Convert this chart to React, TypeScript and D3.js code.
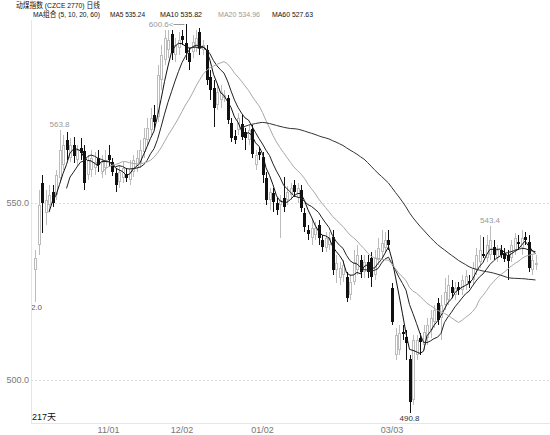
import React from "react";
import * as d3 from "d3";

const opens = [
  531.1, 538.1, 555.6, 547.2, 549.4, 553.0, 552.3, 557.1, 560.7, 567.8,
  562.7, 566.4, 562.1, 565.5, 564.7, 557.9, 559.3, 559.9, 562.7, 558.7,
  559.9, 563.6, 561.6, 558.5, 555.9, 557.1, 558.2, 556.5, 558.7, 559.9,
  561.3, 564.4, 567.8, 570.6, 574.9, 574.3, 584.7, 590.4, 593.2, 597.7,
  591.8, 593.8, 597.2, 595.2, 592.4, 592.6, 593.8, 598.3, 593.2, 593.2,
  585.6, 582.5, 577.7, 579.1, 579.6, 579.6, 572.6, 568.9, 570.6, 572.3,
  570.1, 567.8, 570.9, 560.7, 564.4, 563.0, 557.1, 550.8, 552.8, 550.0,
  549.4, 551.4, 550.8, 552.3, 555.1, 551.4, 553.7, 547.2, 542.4, 540.1,
  541.0, 543.8, 539.5, 537.3, 538.1, 540.4, 531.1, 528.8, 529.7, 529.1,
  524.0, 527.7, 531.1, 533.9, 530.5, 533.3, 534.5, 529.7, 533.9, 536.2,
  537.3, 539.5, 526.0, 507.1, 508.5, 513.6, 512.1, 505.9, 494.3, 507.1,
  511.9, 509.9, 511.9, 514.1, 516.4, 521.7, 517.5, 521.2, 522.6, 526.3,
  524.0, 526.3, 525.4, 526.8, 527.9, 528.2, 531.1, 533.3, 535.6, 534.5,
  535.3, 537.6, 534.5, 536.7, 535.9, 535.3, 534.5, 536.7, 539.0, 537.3,
  540.4, 539.0, 531.1, 532.5,
];
const highs = [
  536.7, 553.7, 557.9, 553.7, 555.1, 555.1, 559.3, 570.6, 569.2, 570.1,
  568.4, 568.6, 566.4, 568.4, 566.4, 563.6, 565.0, 564.4, 565.0, 563.6,
  565.0, 566.4, 562.7, 559.9, 560.7, 561.6, 559.9, 562.1, 563.6, 565.0,
  567.8, 571.2, 574.0, 576.8, 577.7, 589.0, 594.6, 598.9, 598.9, 598.9,
  596.6, 598.3, 598.9, 600.6, 593.8, 597.5, 598.9, 599.4, 596.0, 594.6,
  587.6, 584.7, 583.3, 583.3, 581.9, 580.5, 574.0, 570.6, 575.4, 574.9,
  571.2, 572.0, 572.0, 565.0, 565.5, 564.4, 558.7, 554.2, 554.2, 551.4,
  552.3, 557.3, 554.8, 555.6, 556.5, 555.6, 555.1, 548.6, 543.8, 545.2,
  544.6, 545.2, 541.0, 541.8, 541.8, 542.4, 535.3, 533.3, 533.9, 530.5,
  529.7, 536.7, 538.1, 535.3, 535.3, 535.3, 536.2, 536.7, 540.1, 542.4,
  541.8, 542.4, 527.4, 514.7, 515.5, 515.5, 514.1, 507.1, 512.7, 512.7,
  513.3, 515.5, 517.5, 519.8, 521.2, 523.2, 524.0, 528.8, 529.7, 528.2,
  527.7, 527.7, 529.7, 531.1, 529.7, 533.3, 537.3, 541.0, 540.4, 541.0,
  543.4, 539.5, 538.1, 538.1, 537.3, 536.7, 539.5, 541.5, 541.0, 542.4,
  541.8, 541.0, 535.3, 535.3,
];
const lows = [
  522.0, 535.3, 541.5, 543.8, 548.0, 548.9, 550.8, 555.9, 559.3, 562.1,
  561.6, 561.3, 560.2, 562.1, 553.7, 556.5, 557.3, 557.9, 558.7, 557.1,
  557.9, 560.2, 557.6, 553.1, 554.2, 555.6, 555.9, 555.1, 557.3, 558.7,
  559.9, 562.7, 566.4, 569.2, 571.2, 572.9, 581.9, 589.0, 590.9, 590.4,
  589.8, 591.8, 594.6, 590.4, 587.6, 590.9, 592.6, 591.8, 591.8, 583.3,
  579.1, 571.5, 576.3, 576.8, 578.5, 572.3, 567.2, 566.7, 569.2, 567.8,
  565.0, 566.4, 562.7, 559.3, 562.1, 555.6, 549.4, 548.0, 547.5, 546.6,
  540.1, 547.5, 549.4, 550.8, 551.7, 550.0, 547.5, 541.8, 539.5, 538.1,
  539.5, 538.1, 536.2, 536.2, 536.7, 529.7, 527.4, 526.8, 527.7, 522.0,
  522.6, 526.8, 529.7, 528.8, 528.8, 528.8, 526.3, 528.2, 532.5, 534.5,
  536.2, 536.7, 515.5, 505.6, 507.1, 511.3, 505.6, 490.8, 492.9, 505.6,
  507.1, 508.5, 509.9, 511.9, 514.7, 515.5, 511.3, 519.8, 521.2, 523.2,
  522.6, 524.0, 524.0, 525.4, 526.0, 526.8, 529.7, 531.6, 534.5, 533.3,
  533.9, 533.9, 533.3, 534.5, 533.3, 528.2, 533.3, 535.3, 536.7, 535.3,
  538.1, 530.5, 529.7, 531.1,
];
const closes = [
  534.5, 549.4, 550.0, 550.8, 552.3, 550.0, 557.9, 565.0, 566.4, 565.0,
  566.4, 563.3, 565.0, 564.1, 555.6, 562.1, 562.7, 561.6, 560.7, 561.6,
  562.1, 562.1, 558.7, 555.1, 558.7, 559.9, 557.1, 559.9, 562.1, 562.7,
  565.0, 568.4, 571.2, 574.0, 572.9, 586.2, 591.8, 596.6, 596.0, 592.4,
  594.6, 596.0, 596.0, 592.4, 589.8, 595.5, 596.6, 593.8, 594.6, 584.7,
  581.9, 576.8, 581.3, 581.3, 580.5, 573.4, 568.4, 567.8, 574.0, 568.6,
  568.4, 570.6, 563.8, 563.6, 563.6, 557.9, 550.8, 553.1, 550.3, 548.0,
  550.8, 548.9, 553.1, 554.2, 553.1, 554.2, 548.6, 543.2, 541.2, 542.9,
  542.9, 540.1, 537.6, 540.1, 540.1, 531.1, 533.0, 531.6, 532.5, 523.2,
  527.7, 533.3, 535.3, 530.5, 533.3, 530.5, 529.1, 534.5, 537.3, 538.7,
  539.5, 538.1, 516.4, 512.7, 513.3, 513.0, 510.4, 493.8, 511.3, 511.3,
  510.7, 513.6, 515.5, 517.5, 519.8, 516.9, 521.2, 524.9, 526.8, 524.6,
  526.0, 525.4, 528.2, 529.4, 527.4, 531.6, 535.3, 536.7, 535.0, 538.1,
  539.5, 535.3, 536.7, 535.3, 534.2, 533.6, 538.1, 540.1, 538.4, 540.1,
  539.5, 531.6, 533.9, 533.0,
];

const dateLabels = ["11/01", "12/02", "01/02", "03/03"];
const dateIndex = [21, 42, 65, 102];
const yTicks = [550, 500];
const maPeriods = [5, 10, 20, 60];
const maLegendValues = ["535.24", "535.82", "534.96", "527.63"];
const maColors = ["#111", "#222", "#a8a8a8", "#333"];
const titleText = "动煤指数 (CZCE 2770) 日线";
const maGroupLabel = "MA组合 (5, 10, 20, 60)";
const daysLabel = "217天";
const highMarkIndex = [7, 43, 130];
const highMarkText = ["563.8", "600.6", "543.4"];
const lowMarkIndex = [0, 107];
const lowMarkText = ["522.0", "490.8"];

const FONT = "'Liberation Sans Narrow', 'Liberation Sans', 'Noto Sans CJK SC', sans-serif";

function movingAverage(p: number): ([number, number])[] {
  const out: [number, number][] = [];
  for (let i = p - 1; i < closes.length; i++) {
    let s = 0;
    for (let k = i - p + 1; k <= i; k++) s += closes[k];
    out.push([i, s / p]);
  }
  return out;
}

export default function App() {
  const W = 550;
  const H = 435;
  const n = closes.length;
  const left = 31;
  const bottom = 423;
  const x = d3.scaleLinear().domain([0, n - 1]).range([35, 535.5]);
  const y = d3.scaleLinear().domain([500, 550]).range([380, 203]);
  const line = d3
    .line<[number, number]>()
    .x((d) => x(d[0]))
    .y((d) => y(d[1]));

  const candles = d3.range(n).map((i) => {
    const cx = Math.round(x(i));
    const o = opens[i];
    const c = closes[i];
    const up = c >= o;
    const top = Math.round(y(Math.max(o, c)));
    const bot = Math.round(y(Math.min(o, c)));
    const hy = Math.round(y(highs[i]));
    const ly = Math.round(y(lows[i]));
    const col = up ? "#bcbcbc" : "#111";
    const h = Math.max(bot - top, 1);
    return (
      <g key={i}>
        <line x1={cx + 0.5} x2={cx + 0.5} y1={hy} y2={ly} stroke={col} strokeWidth={1} />
        {up ? (
          <rect x={cx - 0.5} y={top + 0.5} width={2} height={Math.max(h - 1, 0)} fill="#fff" stroke={col} strokeWidth={1} />
        ) : (
          <rect x={cx - 1} y={top} width={3} height={h} fill={col} />
        )}
      </g>
    );
  });

  const legendX = [110, 160, 218, 272];
  const legendW = [35, 42, 42, 41];

  return (
    <div style={{ position: "fixed", left: 0, top: 0, width: W, height: H, background: "#fff" }}>
      <svg width={W} height={H} style={{ display: "block" }} fontFamily={FONT}>
        <defs>
          <clipPath id="plotclip">
            <rect x={left + 1} y={18} width={W - left} height={bottom - 18} />
          </clipPath>
        </defs>
        <rect x={0} y={0} width={W} height={H} fill="#fff" />
        <line x1={left + 0.5} x2={left + 0.5} y1={20} y2={bottom} stroke="#e6e6e6" />
        <line x1={left} x2={W} y1={bottom + 0.5} y2={bottom + 0.5} stroke="#e6e6e6" />
        {yTicks.map((t) => (
          <g key={t}>
            <line x1={left} x2={W} y1={Math.round(y(t)) + 0.5} y2={Math.round(y(t)) + 0.5} stroke="#dcdcdc" strokeDasharray="2,2" />
            <text x={29} y={y(t) + 3} fontSize={9} textAnchor="end" fill="#777">
              {t.toFixed(1)}
            </text>
          </g>
        ))}
        {dateLabels.map((d, k) => (
          <text key={d} x={x(dateIndex[k])} y={433} fontSize={9} textAnchor="middle" fill="#777">
            {d}
          </text>
        ))}
        <g clipPath="url(#plotclip)">
          {candles}
          {maPeriods.map((p, k) => (
            <path key={p} d={line(movingAverage(p)) || ""} fill="none" stroke={maColors[k]} strokeWidth={1} />
          ))}
          {highMarkIndex.map((i, k) =>
            i === 43 ? (
              <g key={i}>
                <text x={x(i) - 12} y={y(highs[i]) + 3} fontSize={8} textAnchor="end" fill="#999">
                  {highMarkText[k] + "<"}
                </text>
                <line x1={x(i) - 12} x2={x(i) - 1} y1={Math.round(y(highs[i])) + 0.5} y2={Math.round(y(highs[i])) + 0.5} stroke="#999" />
              </g>
            ) : (
              <text key={i} x={x(i)} y={y(highs[i]) - 3} fontSize={8} textAnchor="middle" fill="#999">
                {highMarkText[k]}
              </text>
            )
          )}
          {lowMarkIndex.map((i, k) => (
            <text key={i} x={x(i) - (k === 0 ? 3 : 0)} y={y(lows[i]) + 8} fontSize={8} textAnchor="middle" fill={k === 0 ? "#555" : "#333"}>
              {lowMarkText[k]}
            </text>
          ))}
        </g>
        <text x={32} y={420} fontSize={9} fill="#111">
          {daysLabel}
        </text>
        <text x={16} y={8} fontSize={8} fill="#111" textLength={84} lengthAdjust="spacingAndGlyphs">
          {titleText}
        </text>
        <text x={33} y={17} fontSize={8} fill="#111" textLength={67} lengthAdjust="spacingAndGlyphs">
          {maGroupLabel}
        </text>
        {maPeriods.map((p, k) => (
          <text key={p} x={legendX[k]} y={17} fontSize={8} fill={k === 2 ? "#999" : "#111"} textLength={legendW[k]} lengthAdjust="spacingAndGlyphs">
            {"MA" + p + " " + maLegendValues[k]}
          </text>
        ))}
      </svg>
    </div>
  );
}
